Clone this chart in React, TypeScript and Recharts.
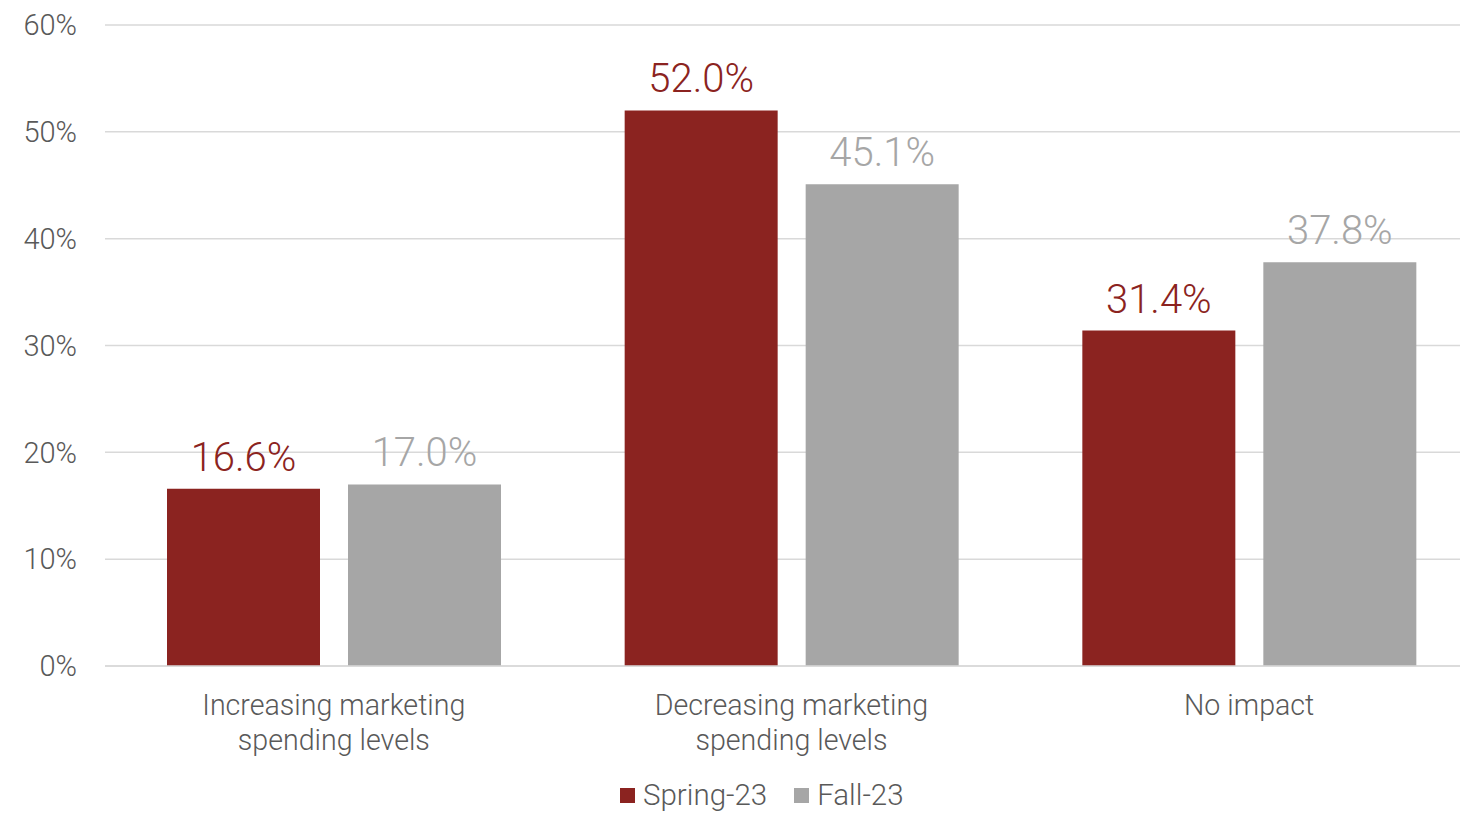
import { BarChart, Bar, XAxis, YAxis, CartesianGrid, Legend, LabelList } from 'recharts'

const categories = [
  ['Increasing marketing', 'spending levels'],
  ['Decreasing marketing', 'spending levels'],
  ['No impact'],
]
const spring23 = [16.6, 52.0, 31.4]
const fall23 = [17.0, 45.1, 37.8]
const yTicks = [0, 10, 20, 30, 40, 50, 60]

const RED = '#8B2320'
const GRAY = '#A6A6A6'
const TEXT = '#595959'
const FONT = 'Roboto, "Liberation Sans", Arial, sans-serif'

const data = categories.map((lines, i) => ({
  name: lines.join(' '),
  lines,
  spring: spring23[i],
  fall: fall23[i],
}))

// etiqueta del eje x en dos lineas
function CategoryTick({ x, y, index }: any) {
  const lines = categories[index] || []
  return (
    <text x={x} y={y + 49} textAnchor="middle" fill={TEXT} fontSize={28.6} fontFamily={FONT} fontWeight={300}>
      {lines.map((l, i) => (
        <tspan key={i} x={x} dy={i === 0 ? 0 : 35}>
          {l}
        </tspan>
      ))}
    </text>
  )
}

function LegendBox() {
  const items = [
    { label: 'Spring-23', color: RED },
    { label: 'Fall-23', color: GRAY },
  ]
  return (
    <div
      style={{
        height: 47,
        display: 'flex',
        justifyContent: 'flex-start',
        alignItems: 'flex-end',
        paddingLeft: 620,
        boxSizing: 'border-box',
        fontFamily: FONT,
        fontWeight: 300,
        fontSize: 29.5,
        color: TEXT,
        lineHeight: '32px',
      }}
    >
      {items.map((it) => (
        <div key={it.label} style={{ display: 'flex', alignItems: 'center', marginRight: 27, marginBottom: 2 }}>
          <span style={{ width: 15, height: 15, background: it.color, marginRight: 8, display: 'inline-block' }} />
          <span>{it.label}</span>
        </div>
      ))}
    </div>
  )
}

export default function App() {
  return (
    <div style={{ position: 'absolute', left: 0, top: 0, width: 1460, height: 813, overflow: 'hidden', background: '#fff' }}>
      <BarChart
        width={1480}
        height={813}
        data={data}
        margin={{ top: 25, right: 2, bottom: 0, left: 0 }}
        barCategoryGap={62}
        barGap={28}
      >
        <CartesianGrid vertical={false} stroke="#d9d9d9" strokeWidth={1.5} />
        <XAxis
          dataKey="name"
          height={100}
          tick={<CategoryTick />}
          tickLine={false}
          axisLine={{ stroke: '#d9d9d9', strokeWidth: 1.5 }}
          tickSize={0}
          tickMargin={0}
          interval={0}
        />
        <YAxis
          width={105}
          domain={[0, 60]}
          ticks={yTicks}
          tickFormatter={(v) => `${v}%`}
          axisLine={false}
          tickLine={false}
          tickSize={0}
          tickMargin={28}
          tick={{ fill: TEXT, fontSize: 29, fontFamily: FONT, fontWeight: 300 }}
        />
        <Legend verticalAlign="bottom" content={<LegendBox />} />
        <Bar dataKey="spring" name="Spring-23" fill={RED} isAnimationActive={false}>
          <LabelList
            dataKey="spring"
            position="top"
            offset={18}
            formatter={(v: any) => `${Number(v).toFixed(1)}%`}
            style={{ fill: RED, fontSize: 40, fontFamily: FONT, fontWeight: 300 }}
          />
        </Bar>
        <Bar dataKey="fall" name="Fall-23" fill={GRAY} isAnimationActive={false}>
          <LabelList
            dataKey="fall"
            position="top"
            offset={18}
            formatter={(v: any) => `${Number(v).toFixed(1)}%`}
            style={{ fill: GRAY, fontSize: 40, fontFamily: FONT, fontWeight: 300 }}
          />
        </Bar>
      </BarChart>
    </div>
  )
}
